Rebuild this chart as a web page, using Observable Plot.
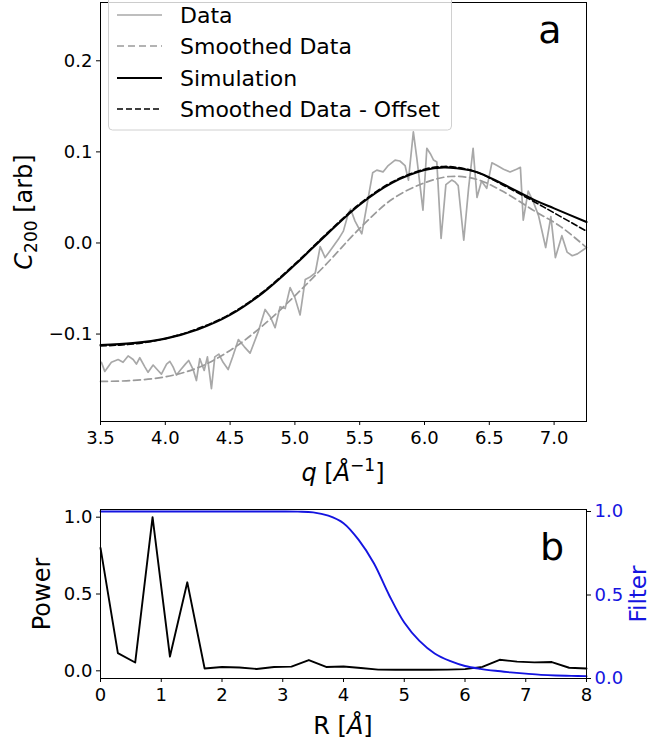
<!DOCTYPE html>
<html><head><meta charset="utf-8">
<script src="https://cdn.jsdelivr.net/npm/d3@7"></script>
<script src="https://cdn.jsdelivr.net/npm/@observablehq/plot@0.6"></script>
<style>
body{margin:0;background:#fff;}
#wrap{position:relative;width:653px;height:747px;font-family:"DejaVu Sans",sans-serif;}
#top{position:absolute;left:0;top:0;}
#bot{position:absolute;left:0;top:490px;}
</style></head><body><div id="wrap"><div id="top"></div><div id="bot"></div></div>
<script>
// ---------- Panel a data ----------
const qData = [3.507,3.533,3.584,3.636,3.674,3.713,3.752,3.777,3.803,3.842,3.867,3.906,3.944,3.970,4.010,4.035,4.060,4.086,4.120,4.155,4.180,4.215,4.240,4.266,4.300,4.325,4.356,4.382,4.413,4.446,4.485,4.520,4.564,4.610,4.654,4.718,4.770,4.810,4.847,4.886,4.925,4.963,5.000,5.040,5.080,5.120,5.157,5.195,5.233,5.280,5.335,5.374,5.413,5.430,5.464,5.516,5.600,5.632,5.680,5.720,5.773,5.810,5.850,5.876,5.914,5.940,5.988,6.018,6.045,6.070,6.095,6.128,6.165,6.210,6.236,6.260,6.303,6.340,6.375,6.405,6.440,6.480,6.520,6.560,6.610,6.660,6.710,6.740,6.762,6.800,6.840,6.880,6.935,6.975,7.010,7.060,7.100,7.140,7.180,7.240];
const cData = [-0.131,-0.141,-0.131,-0.128,-0.131,-0.124,-0.128,-0.133,-0.126,-0.136,-0.142,-0.134,-0.140,-0.144,-0.133,-0.130,-0.136,-0.145,-0.139,-0.133,-0.129,-0.139,-0.151,-0.127,-0.140,-0.125,-0.160,-0.125,-0.122,-0.131,-0.139,-0.125,-0.106,-0.114,-0.121,-0.097,-0.073,-0.081,-0.093,-0.070,-0.072,-0.049,-0.060,-0.079,-0.040,-0.037,-0.033,-0.004,-0.016,-0.007,0.004,0.013,0.033,0.037,0.024,0.010,0.077,0.080,0.078,0.085,0.091,0.090,0.085,0.069,0.122,0.094,0.036,0.104,0.098,0.091,0.089,0.005,0.064,0.069,0.067,0.063,0.003,0.060,0.104,0.050,0.068,0.060,0.088,0.085,0.081,0.078,0.081,0.083,0.025,0.057,0.045,0.030,-0.005,0.029,-0.016,0.008,-0.010,-0.014,-0.012,-0.006];

const qSmooth = [3.5,3.75,4.0,4.25,4.5,4.75,5.0,5.25,5.5,5.75,6.0,6.2,6.4,6.6,6.85,7.05,7.25];
const cSmooth = [-0.152,-0.151,-0.147,-0.137,-0.118,-0.091,-0.058,-0.022,0.016,0.048,0.066,0.073,0.070,0.057,0.035,0.018,-0.005];

const qSim = [3.5,3.75,4.0,4.25,4.5,4.75,5.0,5.25,5.5,5.75,6.0,6.15,6.25,6.4,6.6,6.85,7.0,7.25];
const cSim = [-0.112,-0.110,-0.105,-0.095,-0.079,-0.055,-0.024,0.010,0.042,0.066,0.080,0.083,0.082,0.078,0.065,0.047,0.038,0.023];
const cSmoothOffset = [-0.113,-0.111,-0.105,-0.094,-0.078,-0.054,-0.023,0.011,0.043,0.067,0.081,0.084,0.083,0.078,0.064,0.045,0.033,0.013];

const qTicks = [3.5,4.0,4.5,5.0,5.5,6.0,6.5,7.0];
const cTicks = [-0.1,0.0,0.1,0.2];
const legendLabels = ["Data","Smoothed Data","Simulation","Smoothed Data - Offset"];

// ---------- Panel b data ----------
const rPower = [0,0.286,0.571,0.857,1.143,1.429,1.714,2.0,2.286,2.571,2.857,3.143,3.429,3.714,4.0,4.286,4.571,4.857,5.143,5.429,5.714,6.0,6.286,6.571,6.857,7.143,7.429,7.714,8.0];
const power = [0.80,0.115,0.054,1.0,0.093,0.576,0.015,0.025,0.022,0.012,0.025,0.027,0.070,0.025,0.028,0.018,0.008,0.007,0.007,0.007,0.008,0.011,0.026,0.072,0.060,0.055,0.057,0.020,0.015];
const rFilter = [0,0.5,1,1.5,2,2.5,3,3.25,3.5,3.75,4.0,4.25,4.5,4.75,5.0,5.25,5.5,5.75,6.0,6.25,6.5,6.75,7.0,7.25,7.5,7.75,8.0];
const filterVals = [1,1,1,1,1,1,1,0.999,0.995,0.975,0.93,0.83,0.69,0.50,0.335,0.225,0.15,0.105,0.075,0.058,0.046,0.037,0.029,0.022,0.018,0.016,0.014];
const rTicks = [0,1,2,3,4,5,6,7,8];
const pTicks = [0.0,0.5,1.0];
const fTicks = [0.0,0.5,1.0];

// ---------- build ----------
const FONT = "DejaVu Sans";
const BLUE = "#1414e0";
const dataRows = qData.map((q,i)=>({q, c:cData[i]}));
const smoothRows = qSmooth.map((q,i)=>({q, c:cSmooth[i]}));
const simRows = qSim.map((q,i)=>({q, c:cSim[i]}));
const offRows = qSim.map((q,i)=>({q, c:cSmoothOffset[i]}));
const f1 = d3.format(".1f");

const topPlot = Plot.plot({
  width: 653, height: 490,
  marginLeft: 100, marginRight: 67, marginTop: 2, marginBottom: 69,
  style: {fontFamily: FONT, fontSize: "18px", color: "#000", background: "#fff", overflow: "visible"},
  x: {domain: [3.5, 7.25], label: null},
  y: {domain: [-0.196, 0.264], label: null},
  marks: [
    Plot.line(dataRows, {x:"q", y:"c", stroke:"#a8a8a8", strokeWidth:1.7}),
    Plot.line(smoothRows, {x:"q", y:"c", stroke:"#9a9a9a", strokeWidth:1.7, strokeDasharray:"7,4", curve:"catmull-rom"}),
    Plot.line(simRows, {x:"q", y:"c", stroke:"#000", strokeWidth:2.1, curve:"catmull-rom"}),
    Plot.line(offRows, {x:"q", y:"c", stroke:"#000", strokeWidth:1.6, strokeDasharray:"6,3", curve:"catmull-rom"}),
    Plot.frame({stroke:"#000", strokeWidth:1}),
    Plot.axisX({ticks: qTicks, tickFormat: f1, tickSize: 4, tickPadding: 6, label: null}),
    Plot.axisY({ticks: cTicks, tickFormat: f1, tickSize: 4, tickPadding: 4, label: null})
  ]
});
document.getElementById("top").appendChild(topPlot);

const pDomain = [-0.05, 1.05];
const fDomain = [0.0, 1.012];
const toP = f => pDomain[0] + (f - fDomain[0])/(fDomain[1]-fDomain[0])*(pDomain[1]-pDomain[0]);
const fromP = p => fDomain[0] + (p - pDomain[0])/(pDomain[1]-pDomain[0])*(fDomain[1]-fDomain[0]);
const powerRows = rPower.map((r,i)=>({r, p:power[i]}));
const filterRows = rFilter.map((r,i)=>({r, p:toP(filterVals[i])}));

const botPlot = Plot.plot({
  width: 653, height: 257,
  marginLeft: 100, marginRight: 67, marginTop: 19, marginBottom: 69,
  style: {fontFamily: FONT, fontSize: "18px", color: "#000", background: "#fff", overflow: "visible"},
  x: {domain: [0, 8], label: null},
  y: {domain: pDomain, label: null},
  marks: [
    Plot.line(powerRows, {x:"r", y:"p", stroke:"#000", strokeWidth:1.9}),
    Plot.line(filterRows, {x:"r", y:"p", stroke:BLUE, strokeWidth:1.9, curve:"catmull-rom"}),
    Plot.frame({stroke:"#000", strokeWidth:1}),
    Plot.axisX({ticks: rTicks, tickFormat: d3.format("d"), tickSize: 4, tickPadding: 6, label: null}),
    Plot.axisY({ticks: pTicks, tickFormat: f1, tickSize: 4, tickPadding: 4, label: null}),
    Plot.axisY({anchor: "right", ticks: fTicks.map(toP), tickFormat: p => f1(fromP(p)), tickSize: 4, tickPadding: 4, label: null, stroke: "#000", fill: BLUE})
  ]
});
document.getElementById("bot").appendChild(botPlot);

// ---------- annotations (titles, legend, panel letters) ----------
const ts = d3.select(topPlot);
const yt = ts.append("text").attr("transform","translate(32,212) rotate(-90)")
  .attr("text-anchor","middle").attr("font-family",FONT).attr("font-size",24).attr("fill","#000");
yt.append("tspan").attr("font-style","italic").text("C");
yt.append("tspan").attr("font-size",17).attr("dy",5).text("200");
yt.append("tspan").attr("dy",-5).text(" [arb]");
const xt = ts.append("text").attr("x",343).attr("y",481)
  .attr("text-anchor","middle").attr("font-family",FONT).attr("font-size",24).attr("fill","#000");
xt.append("tspan").attr("font-style","italic").text("q");
xt.append("tspan").text(" [");
xt.append("tspan").attr("font-style","italic").text("Å");
xt.append("tspan").attr("font-size",17).attr("dy",-10).text("−1");
xt.append("tspan").attr("dy",10).text("]");
ts.append("text").attr("x",550).attr("y",43).attr("text-anchor","middle")
  .attr("font-family",FONT).attr("font-size",38).attr("fill","#000").text("a");
// legend
const lg = ts.append("g");
lg.append("rect").attr("x",108.5).attr("y",-6).attr("width",343).attr("height",136).attr("rx",4)
  .attr("fill","#fff").attr("fill-opacity",0.8).attr("stroke","#d0d0d0").attr("stroke-width",1);
const legStyles = [
  {stroke:"#a8a8a8", w:1.7, dash:null},
  {stroke:"#9a9a9a", w:1.7, dash:"7,4"},
  {stroke:"#000", w:2.1, dash:null},
  {stroke:"#000", w:1.6, dash:"6,3"}
];
const legY = [15,46,78,109];
legendLabels.forEach((lab,i)=>{
  const s = legStyles[i];
  const ln = lg.append("line").attr("x1",117).attr("x2",162).attr("y1",legY[i]).attr("y2",legY[i])
    .attr("stroke",s.stroke).attr("stroke-width",s.w);
  if (s.dash) ln.attr("stroke-dasharray",s.dash);
  lg.append("text").attr("x",180).attr("y",legY[i]+8).attr("text-anchor","start")
    .attr("font-family",FONT).attr("font-size",22).attr("fill","#000").text(lab);
});

const bs = d3.select(botPlot);
bs.append("text").attr("transform","translate(50,104) rotate(-90)").attr("text-anchor","middle")
  .attr("font-family",FONT).attr("font-size",24).attr("fill","#000").text("Power");
bs.append("text").attr("transform","translate(646,104) rotate(-90)").attr("text-anchor","middle")
  .attr("font-family",FONT).attr("font-size",23).attr("fill",BLUE).text("Filter");
const rt = bs.append("text").attr("x",343).attr("y",244).attr("text-anchor","middle")
  .attr("font-family",FONT).attr("font-size",24).attr("fill","#000");
rt.append("tspan").text("R [");
rt.append("tspan").attr("font-style","italic").text("Å");
rt.append("tspan").text("]");
bs.append("text").attr("x",552).attr("y",70).attr("text-anchor","middle")
  .attr("font-family",FONT).attr("font-size",38).attr("fill","#000").text("b");
</script></body></html>
